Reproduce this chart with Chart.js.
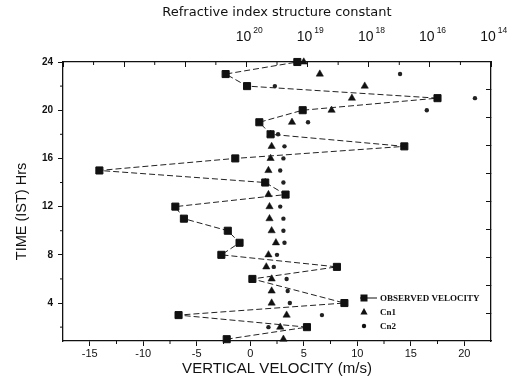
<!DOCTYPE html>
<html lang="en">
<head>
<meta charset="UTF-8">
<title>Vertical velocity and Cn2</title>
<script src="https://cdn.jsdelivr.net/npm/chart.js"></script>
<style>
  body { margin: 0; background: #fff; }
  #wrap { width: 515px; height: 380px; }
</style>
</head>
<body>
<div id="wrap"><canvas id="velChart" width="515" height="380"></canvas></div>
<script>
// hour of day (IST)
const hours = [1, 2, 3, 4, 5, 6, 7, 8, 9, 10, 11, 12, 13, 14, 15, 16, 17, 18, 19, 20, 21, 22, 23, 24];
// observed vertical velocity, m/s (hour 5 not plotted)
const velocity = [-2.2, 5.3, -6.7, 8.8, null, 0.2, 8.1, -2.7, -1.0, -2.1, -6.2, -7.0,
                  3.3, 1.4, -14.1, -1.4, 14.4, 1.9, 0.85, 4.9, 17.5, -0.3, -2.3, 4.4];
// Cn1 / Cn2 markers, placed on the same horizontal scale as the picture
const cn1 = [3.1, 2.8, 3.4, 2.0, 2.0, 2.0, 1.5, 1.7, 2.4, 2.0, 1.8, 1.8,
             1.7, 1.4, 1.7, 1.9, 2.0, 1.9, 3.9, 7.6, 9.5, 10.7, 6.5, 5.0];
const cn2 = [null, 1.7, 6.7, 3.7, 3.5, 3.4, 2.2, 2.5, 3.2, 3.1, 3.1, 2.8,
             null, 3.1, 2.8, 3.1, 3.2, 2.6, 5.4, 16.5, 21.0, 2.3, 14.0, null];

const xTicks = [-15, -10, -5, 0, 5, 10, 15, 20];
const yTicks = [4, 8, 12, 16, 20, 24];
const topTickPos = [3, 4, 5, 6, 7];
const topTickExp = ['20', '19', '18', '16', '14'];
const legendLabels = ['OBSERVED VELOCITY', 'Cn1', 'Cn2'];
const yTitle = 'TIME (IST) Hrs';

function toPoints(vals) {
    return hours.map((h, i) => ({ x: vals[i], y: h })).filter(p => p.x !== null);
}

Chart.defaults.font.family = 'Arial, "Liberation Sans", sans-serif';
Chart.defaults.color = '#111';

const ink = '#111';

// minor ticks, top labels with exponents, y title and the legend
const extras = {
    id: 'extras',
    afterDraw(chart) {
        const ctx = chart.ctx;
        const a = chart.chartArea;
        const sx = chart.scales.x, sy = chart.scales.y, sx2 = chart.scales.x2;
        ctx.save();
        ctx.strokeStyle = ink;
        ctx.fillStyle = ink;
        ctx.lineWidth = 1;
        ctx.beginPath();
        for (let v = -12.5; v < 20; v += 5) {
            const p = sx.getPixelForValue(v);
            ctx.moveTo(p, a.bottom); ctx.lineTo(p, a.bottom + 3);
        }
        for (let v = 2; v < 24; v += 4) {
            const p = sy.getPixelForValue(v);
            ctx.moveTo(a.left, p); ctx.lineTo(a.left - 3, p);
        }
        for (let v = 0.5; v < 7; v += 1) {
            const p = sx2.getPixelForValue(v);
            ctx.moveTo(p, a.top); ctx.lineTo(p, a.top + 3);
        }
        ctx.stroke();

        // top axis labels: 10 with raised exponent
        ctx.textBaseline = 'middle';
        topTickPos.forEach((k, i) => {
            const p = sx2.getPixelForValue(k) - 3;
            ctx.font = '14px Arial, "Liberation Sans", sans-serif';
            ctx.textAlign = 'center';
            ctx.fillText('10', p, 37);
            const w = ctx.measureText('10').width;
            ctx.font = '8.5px Arial, "Liberation Sans", sans-serif';
            ctx.textAlign = 'left';
            ctx.fillText(topTickExp[i], p + w / 2 + 2, 31);
        });

        // y axis title
        ctx.save();
        ctx.translate(22, a.top + (a.bottom - a.top) / 2 + 10);
        ctx.rotate(-Math.PI / 2);
        ctx.font = '14.5px Arial, "Liberation Sans", sans-serif';
        ctx.textAlign = 'center';
        ctx.fillText(yTitle, 0, 0);
        ctx.restore();

        // legend
        const lx = a.right - 127, ly = a.bottom - 43;
        ctx.font = 'bold 9px "Liberation Serif", "Times New Roman", serif';
        ctx.textAlign = 'left';
        legendLabels.forEach((txt, i) => {
            const y = ly + i * 14;
            if (i === 0) {
                ctx.beginPath();
                ctx.moveTo(lx - 4, y); ctx.lineTo(lx + 13, y);
                ctx.stroke();
                ctx.fillRect(lx - 3.5, y - 3.5, 7, 7);
            } else if (i === 1) {
                ctx.beginPath();
                ctx.moveTo(lx, y - 4); ctx.lineTo(lx + 3.6, y + 2.5); ctx.lineTo(lx - 3.6, y + 2.5);
                ctx.closePath(); ctx.fill();
            } else {
                ctx.beginPath();
                ctx.arc(lx, y, 2.2, 0, Math.PI * 2); ctx.fill();
            }
            ctx.fillText(txt, lx + 16, y + 0.5);
        });
        ctx.restore();
    }
};

new Chart(document.getElementById('velChart'), {
    type: 'scatter',
    data: {
        datasets: [
            {
                label: legendLabels[0],
                data: toPoints(velocity),
                showLine: true,
                borderColor: '#222',
                borderWidth: 1,
                borderDash: [6, 3],
                pointStyle: 'rect',
                pointRadius: 5,
                pointBackgroundColor: ink,
                pointBorderColor: ink,
                clip: false,
            },
            {
                label: legendLabels[1],
                data: toPoints(cn1),
                pointStyle: 'triangle',
                pointRadius: 4.2,
                pointBackgroundColor: ink,
                pointBorderColor: ink,
                pointBorderWidth: 0.5,
                clip: false,
            },
            {
                label: legendLabels[2],
                data: toPoints(cn2),
                pointStyle: 'circle',
                pointRadius: 2.2,
                pointBackgroundColor: '#222',
                pointBorderColor: '#222',
                pointBorderWidth: 0,
                clip: false,
            },
        ],
    },
    options: {
        responsive: false,
        animation: false,
        layout: { padding: 0 },
        plugins: {
            legend: { display: false },
            tooltip: { enabled: false },
        },
        scales: {
            x: {
                type: 'linear',
                position: 'bottom',
                min: -17.5,
                max: 22.5,
                afterBuildTicks: s => { s.ticks = xTicks.map(v => ({ value: v })); },
                afterFit: s => { s.height = 39; },
                ticks: { font: { size: 11 }, padding: 1, color: ink },
                grid: { display: true, drawOnChartArea: false, tickLength: 5, tickColor: ink },
                border: { display: true, color: ink, width: 1.3 },
                title: {
                    display: true,
                    text: 'VERTICAL VELOCITY (m/s)',
                    font: { size: 15 },
                    color: ink,
                    padding: { top: 0, bottom: 2 },
                },
            },
            x2: {
                type: 'linear',
                position: 'top',
                display: true,
                min: 0,
                max: 7,
                afterBuildTicks: s => { s.ticks = [0, 1, 2, 3, 4, 5, 6, 7].map(v => ({ value: v })); },
                afterFit: s => { s.height = 62; },
                ticks: { display: false },
                grid: { display: true, drawOnChartArea: false, tickLength: -5, tickColor: ink },
                border: { display: true, color: ink, width: 1.3 },
                title: {
                    display: true,
                    text: 'Refractive index structure constant',
                    font: { size: 13, family: '"DejaVu Sans", Arial, sans-serif' },
                    color: ink,
                    padding: { top: 5, bottom: 0 },
                },
            },
            y: {
                type: 'linear',
                position: 'left',
                min: 0.85,
                max: 24,
                afterBuildTicks: s => { s.ticks = yTicks.map(v => ({ value: v })); },
                afterFit: s => { s.width = 63; },
                ticks: { font: { size: 10, weight: 'bold' }, padding: 5, color: ink },
                grid: { display: true, drawOnChartArea: false, tickLength: 5, tickColor: ink },
                border: { display: true, color: ink, width: 1.3 },
                title: { display: false },
            },
            y2: {
                type: 'linear',
                position: 'right',
                display: true,
                min: 0,
                max: 10,
                afterBuildTicks: s => { s.ticks = [1, 2, 3, 4, 5, 6, 7, 8, 9].map(v => ({ value: v })); },
                afterFit: s => { s.width = 24; },
                ticks: { display: false },
                grid: { display: true, drawOnChartArea: false, tickLength: -5, tickColor: ink },
                border: { display: true, color: ink, width: 1.3 },
            },
        },
    },
    plugins: [extras],
});
</script>
</body>
</html>
